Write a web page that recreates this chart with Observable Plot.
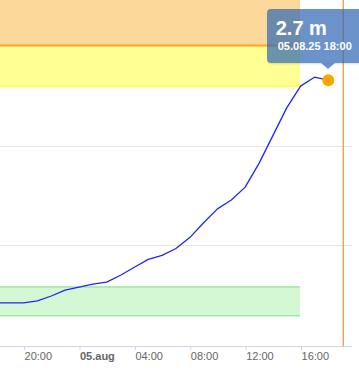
<!DOCTYPE html>
<html>
<head>
<meta charset="utf-8">
<script src="https://cdn.jsdelivr.net/npm/d3@7"></script>
<script src="https://cdn.jsdelivr.net/npm/@observablehq/plot@0.6"></script>
<style>
  html, body { margin: 0; padding: 0; background: #fff; }
  #wrap { position: relative; width: 359px; height: 372px; overflow: hidden; font-family: "Liberation Sans", Arial, sans-serif; }
  #tip { position: absolute; box-sizing: border-box; background: rgba(50,105,180,0.72); border-radius: 4px; color: #fff; font-weight: bold; box-shadow: 1px 1px 2px rgba(0,0,0,0.15); }
  #tip .v { position: absolute; left: 9px; top: 8px; font-size: 20px; line-height: 22px; white-space: nowrap; }
  #tip .d { position: absolute; left: 11px; top: 30px; font-size: 11px; line-height: 14px; white-space: nowrap; }
  #arrow { position: absolute; width: 0; height: 0; border-left: 7px solid transparent; border-right: 7px solid transparent; border-top: 6px solid rgba(50,105,180,0.72); }
</style>
</head>
<body>
<div id="wrap"></div>
<script>
// ---- data ----
const times = [
  "2025-08-04T18:00", "2025-08-04T19:00", "2025-08-04T20:00", "2025-08-04T21:00",
  "2025-08-04T22:00", "2025-08-04T23:00", "2025-08-05T00:00", "2025-08-05T01:00",
  "2025-08-05T02:00", "2025-08-05T03:00", "2025-08-05T04:00", "2025-08-05T05:00",
  "2025-08-05T06:00", "2025-08-05T07:00", "2025-08-05T08:00", "2025-08-05T09:00",
  "2025-08-05T10:00", "2025-08-05T11:00", "2025-08-05T12:00", "2025-08-05T13:00",
  "2025-08-05T14:00", "2025-08-05T15:00", "2025-08-05T16:00", "2025-08-05T17:00",
  "2025-08-05T18:00"
];
const levels = [
  0.42, 0.42, 0.42, 0.44, 0.49, 0.55, 0.58, 0.61, 0.63, 0.70, 0.78, 0.86,
  0.90, 0.97, 1.08, 1.23, 1.37, 1.46, 1.59, 1.83, 2.11, 2.39, 2.61, 2.70, 2.67
];
const tickTimes = ["2025-08-04T20:00", "2025-08-05T04:00", "2025-08-05T08:00", "2025-08-05T12:00", "2025-08-05T16:00"];
const tickLabels = ["20:00", "04:00", "08:00", "12:00", "16:00"];
const dayTickTime = ["2025-08-05T00:00"];
const dayTickLabel = ["05.aug"];
const gridValues = [1, 2];
const xDomain = ["2025-08-04T18:20", "2025-08-05T19:45"];
const yDomain = [-0.02, 3.475];
const bandEnd = "2025-08-05T16:00";
const bandOrange = [3.02, 3.475];
const bandYellow = [2.61, 3.02];
const bandGreen = [0.29, 0.58];
const nowTime = "2025-08-05T19:05";
const tipValue = "2.7 m";
const tipDate = "05.08.25 18:00";

// ---- build ----
const T = s => new Date(s + ":00Z");
const series = times.map((t, i) => ({t: T(t), v: levels[i]}));
const bands = [
  {x1: T(xDomain[0]), x2: T(bandEnd), y1: bandOrange[0], y2: bandOrange[1], fill: "#fdd89b"},
  {x1: T(xDomain[0]), x2: T(bandEnd), y1: bandYellow[0], y2: bandYellow[1], fill: "#ffff93"},
  {x1: T(xDomain[0]), x2: T(bandEnd), y1: bandGreen[0], y2: bandGreen[1], fill: "#d4f7d4"}
];
const borders = [
  {x1: T(xDomain[0]), x2: T(bandEnd), y: bandYellow[0], c: "#ffff55", w: 2},
  {x1: T(xDomain[0]), x2: T(bandEnd), y: bandGreen[0], c: "#a3e8a3", w: 1.5},
  {x1: T(xDomain[0]), x2: T(bandEnd), y: bandGreen[1], c: "#a3e8a3", w: 1.5},
  {x1: T(xDomain[0]), x2: T(bandEnd), y: bandOrange[0], c: "#ffa51e", w: 2}
];
const last = series[series.length - 1];

const chart = Plot.plot({
  width: 359, height: 372,
  marginTop: 0, marginLeft: 0, marginRight: 7, marginBottom: 26,
  x: {type: "utc", domain: xDomain.map(T)},
  y: {domain: yDomain, axis: null},
  style: {fontFamily: '"Liberation Sans", Arial, sans-serif', fontSize: "11px", color: "#666", background: "transparent", overflow: "visible"},
  marks: [
    Plot.rect(bands, {x1: "x1", x2: "x2", y1: "y1", y2: "y2", fill: d => d.fill}),
    Plot.ruleY(borders, {x1: "x1", x2: "x2", y: "y", stroke: d => d.c, strokeWidth: d => d.w}),
    Plot.ruleY(gridValues, {stroke: "#e6e6e6", strokeWidth: 1}),
    Plot.ruleY([yDomain[0]], {stroke: "#ccd6eb", strokeWidth: 1}),
    Plot.ruleX([T(nowTime)], {stroke: "#ef9a48", strokeWidth: 1.3}),
    Plot.line(series, {x: "t", y: "v", stroke: "#2424f5", strokeWidth: 1.3, clip: true}),
    Plot.dot([last], {x: "t", y: "v", r: 6, fill: "#ffa500", stroke: "none"}),
    Plot.axisX(tickTimes.map(T), {tickSize: 4, tickPadding: 2, stroke: "#ccd6eb", fill: "#666",
      textAnchor: "start", dx: 1, tickFormat: (d, i) => tickLabels[i]}),
    Plot.axisX(dayTickTime.map(T), {tickSize: 4, tickPadding: 2, stroke: "#ccd6eb", fill: "#666",
      textAnchor: "start", dx: 1, fontWeight: "bold", tickFormat: (d, i) => dayTickLabel[i]})
  ]
});
const wrap = document.getElementById("wrap");
wrap.appendChild(chart);

// tooltip positioned through the plot's scales
const xs = chart.scale("x"), ys = chart.scale("y");
const px = xs.apply(last.t), py = ys.apply(last.v);
const tip = document.createElement("div");
tip.id = "tip";
tip.style.left = (px - 61) + "px";
tip.style.top = (py - 71) + "px";
tip.style.width = "97px";
tip.style.height = "54px";
tip.innerHTML = `<div class="v">${tipValue}</div><div class="d">${tipDate}</div>`;
wrap.appendChild(tip);
const arrow = document.createElement("div");
arrow.id = "arrow";
arrow.style.left = (px - 7) + "px";
arrow.style.top = (py - 17) + "px";
wrap.appendChild(arrow);
</script>
</body>
</html>
